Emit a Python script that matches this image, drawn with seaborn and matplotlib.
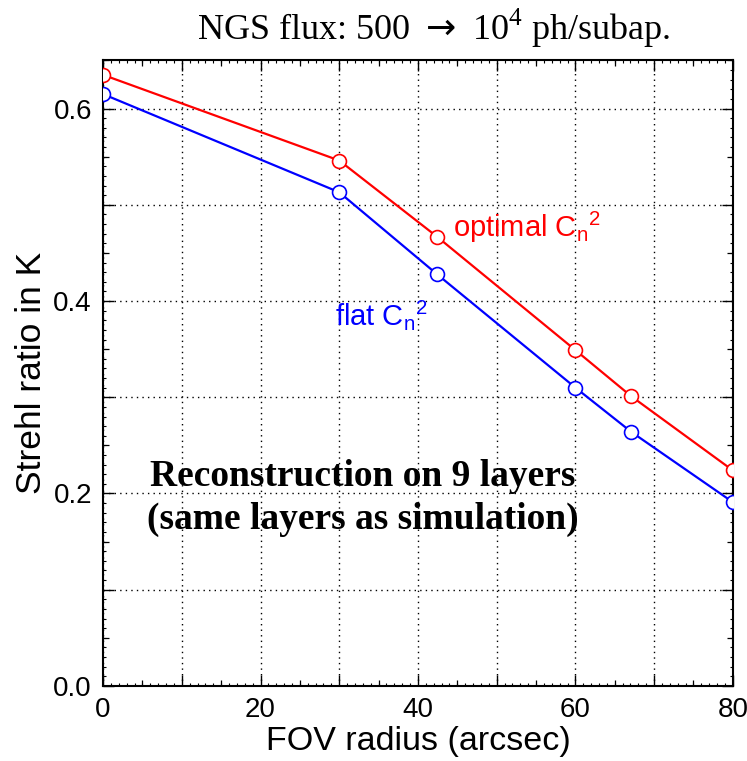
import numpy as np
import pandas as pd
import matplotlib
matplotlib.use("Agg")
import matplotlib.pyplot as plt
import seaborn as sns
from matplotlib.ticker import MultipleLocator, FuncFormatter, NullFormatter

# Data
fov = [0, 30, 42.4, 60, 67.1, 80]
strehl_optimal = [0.635, 0.546, 0.467, 0.349, 0.301, 0.224]
strehl_flat = [0.615, 0.513, 0.428, 0.310, 0.264, 0.191]

df = pd.DataFrame({
    "fov": fov * 2,
    "strehl": strehl_optimal + strehl_flat,
    "profile": ["optimal"] * len(fov) + ["flat"] * len(fov),
})

sns.set_style("ticks")
plt.rcParams['font.family'] = ['Liberation Sans', 'DejaVu Sans']
plt.rcParams['text.color'] = 'black'
plt.rcParams['axes.labelcolor'] = 'black'
plt.rcParams['xtick.color'] = 'black'
plt.rcParams['ytick.color'] = 'black'

fig = plt.figure(figsize=(7.47, 7.61), dpi=100)
ax = fig.add_axes([0.138, 0.0986, 0.843, 0.822])

palette = {"optimal": "#ff0000", "flat": "#0000ff"}
for name in ["optimal", "flat"]:
    sub = df[df.profile == name]
    sns.lineplot(data=sub, x="fov", y="strehl", ax=ax, color=palette[name],
                 marker="o", markersize=10, markerfacecolor="white",
                 markeredgecolor=palette[name], markeredgewidth=1.2,
                 linewidth=1.6, legend=False, zorder=3)

ax.set_xlim(0, 80)
ax.set_ylim(0, 0.65)

ax.xaxis.set_major_locator(MultipleLocator(10))
ax.xaxis.set_minor_locator(MultipleLocator(1))
ax.yaxis.set_major_locator(MultipleLocator(0.1))
ax.yaxis.set_minor_locator(MultipleLocator(0.01))
ax.xaxis.set_major_formatter(FuncFormatter(lambda v, p: f"{v:.0f}" if round(v) % 20 == 0 else ""))
ax.yaxis.set_major_formatter(FuncFormatter(lambda v, p: f"{v:.1f}" if round(v * 10) % 2 == 0 else ""))

ax.tick_params(axis="both", which="major", direction="in", length=8, width=1,
               top=True, right=True, labelsize=20, pad=8, colors="black")
ax.tick_params(axis="both", which="minor", direction="in", length=2.5, width=0.8,
               top=True, right=True)

# medium ticks at the half-steps
for loc in ["bottom", "top"]:
    sec = ax.secondary_xaxis(loc)
    sec.set_xticks([5, 15, 25, 35, 45, 55, 65, 75])
    sec.xaxis.set_major_formatter(NullFormatter())
    sec.tick_params(direction="in", length=4.5, width=0.9)
    sec.spines[loc].set_visible(False)
for loc in ["left", "right"]:
    sec = ax.secondary_yaxis(loc)
    sec.set_yticks([0.05, 0.15, 0.25, 0.35, 0.45, 0.55, 0.65])
    sec.yaxis.set_major_formatter(NullFormatter())
    sec.tick_params(direction="in", length=4.5, width=0.9)
    sec.spines[loc].set_visible(False)

ax.grid(True, which="major", linestyle=(0, (1, 3)), color="black", linewidth=1)
for s in ax.spines.values():
    s.set_linewidth(1.5)
    s.set_color("black")

ax.set_xlabel("FOV radius (arcsec)", fontsize=24.5, labelpad=2)
ax.set_ylabel("Strehl ratio in K", fontsize=25.5, labelpad=4)

ax.text(44.5, 0.477, r"optimal C$_{\mathregular{n}}$$^{\mathregular{2}}$", color="#ff0000", fontsize=21,
        ha="left", va="center")
ax.text(29.5, 0.385, r"flat C$_{\mathregular{n}}$$^{\mathregular{2}}$", color="#0000ff", fontsize=21,
        ha="left", va="center")

ax.text(33, 0.195, "Reconstruction on 9 layers\n(same layers as simulation)",
        family=["Liberation Serif", "DejaVu Serif"], fontweight="bold", fontsize=27,
        ha="center", va="center", linespacing=1.3, color="black")

fig.text(0.58, 0.963, "NGS flux: 500 $\\rightarrow$ 10$^{\\mathregular{4}}$ ph/subap.",
         family=["Liberation Serif", "DejaVu Serif"], fontsize=26,
         ha="center", va="center", color="black")

fig.savefig("out.png", dpi=100)
